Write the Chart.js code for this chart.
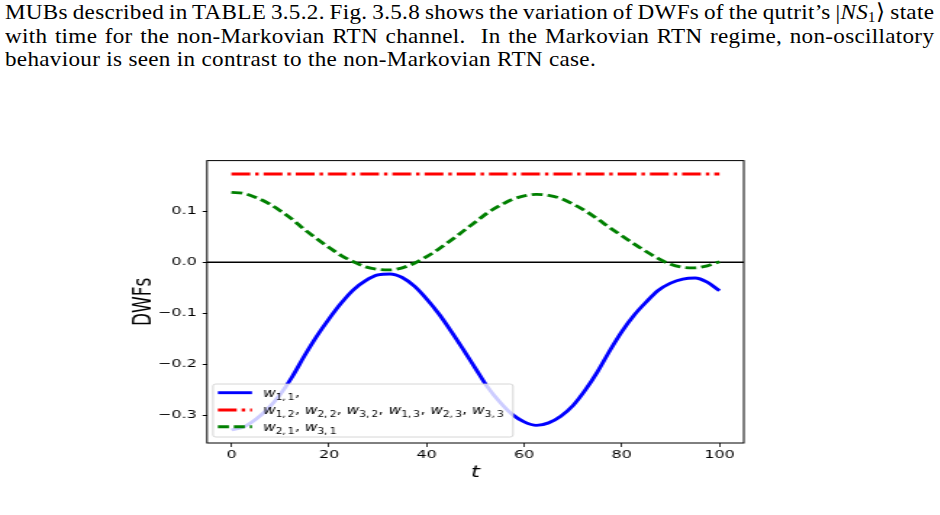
<!DOCTYPE html>
<html lang="en">
<head>
  <meta charset="UTF-8">
  <title>DWFs of the qutrit state</title>
  <script src="https://cdn.jsdelivr.net/npm/chart.js"></script>
  <style>
    html, body { margin: 0; padding: 0; background: #fff; }
    body { position: relative; width: 940px; height: 515px; overflow: hidden; }
    .text-block {
      position: absolute; left: 5px; top: 0px; width: 885px;
      transform: scaleX(1.05); transform-origin: left top;
      font-family: "Liberation Serif", "Times New Roman", serif;
      font-size: 22px; line-height: 23.5px; color: #000;
      letter-spacing: 0.3px;
    }
    .text-block div { white-space: nowrap; }
    .text-block .full { text-align: justify; text-align-last: justify; }
    .text-block .tight { word-spacing: -2.5px; }
    .text-block sub { font-size: 14px; line-height: 0; vertical-align: -3px; }
    /* the figure in the page is stretched sideways, so draw narrow and scale */
    .chart-wrap {
      position: absolute; left: 100px; top: 150px; width: 460px; height: 340px;
      transform: scaleX(1.45); transform-origin: left top;
    }
  </style>
</head>
<body>
  <div class="text-block">
    <div class="full tight">MUBs described in TABLE 3.5.2. Fig. 3.5.8 shows the variation of DWFs of the qutrit’s |<i>NS</i><sub>1</sub>⟩ state</div>
    <div class="full">with time for the non-Markovian RTN channel.&nbsp; In the Markovian RTN regime, non-oscillatory</div>
    <div>behaviour is seen in contrast to the non-Markovian RTN case.</div>
  </div>

  <div class="chart-wrap"><canvas id="dwfChart" width="460" height="340"></canvas></div>

  <script>
    // time axis (t) and values
    const tValues = [0, 2.5, 5, 7.5, 10, 12.5, 15, 17.5, 20, 22.5, 25, 27.5, 30, 32.5, 35, 37.5, 40,
      42.5, 45, 47.5, 50, 52.5, 55, 57.5, 60, 62.5, 65, 67.5, 70, 72.5, 75, 77.5, 80, 82.5, 85,
      87.5, 90, 92.5, 95, 97.5, 100];

    // w_{1,1}
    const w11 = [-0.329, -0.323, -0.308, -0.287, -0.259, -0.224, -0.183, -0.145, -0.111, -0.080,
      -0.054, -0.036, -0.025, -0.023, -0.030, -0.047, -0.072, -0.101, -0.135, -0.171, -0.208,
      -0.245, -0.274, -0.298, -0.313, -0.320, -0.315, -0.302, -0.281, -0.251, -0.215, -0.174,
      -0.136, -0.104, -0.078, -0.055, -0.041, -0.033, -0.031, -0.039, -0.056];

    // w_{2,1}, w_{3,1}
    const w21 = [0.137, 0.135, 0.127, 0.116, 0.101, 0.084, 0.064, 0.046, 0.029, 0.013, 0.001,
      -0.009, -0.014, -0.015, -0.011, -0.002, 0.011, 0.026, 0.043, 0.061, 0.079, 0.097, 0.111,
      0.123, 0.130, 0.133, 0.131, 0.125, 0.114, 0.101, 0.085, 0.068, 0.052, 0.036, 0.021, 0.007,
      -0.004, -0.010, -0.011, -0.007, 0.001];

    // w_{1,2} ... w_{3,3} stay flat
    const wConstT = [0, 100];
    const wConst = [0.173, 0.173];

    const xTickValues = [0, 20, 40, 60, 80, 100];
    const yTickValues = [-0.3, -0.2, -0.1, 0.0, 0.1];

    // legend: [subscript, separator] per w
    const legendRows = [
      [["1,\u20091", ","]],
      [["1,\u20092", ","], ["2,\u20092", ","], ["3,\u20092", ","], ["1,\u20093", ","], ["2,\u20093", ","], ["3,\u20093", ""]],
      [["2,\u20091", ","], ["3,\u20091", ""]]
    ];

    const blueLine = { color: "#0000ff", dash: [] };
    const redLine = { color: "#ff0000", dash: [13, 3.4, 2.4, 3.4] };
    const greenLine = { color: "#008000", dash: [7.6, 3.4] };
    const lineWidth = 2.9;

    // legend text is a little narrower than the rest of the stretched figure
    function drawLabel(ctx, x, base, parts) {
      ctx.save();
      ctx.translate(x, base);
      ctx.scale(0.89, 1);
      let cx = 0;
      parts.forEach((p) => {
        ctx.font = 'italic 12px "DejaVu Sans"';
        ctx.fillText("w", cx, 0);
        cx += ctx.measureText("w").width;
        ctx.font = '8.2px "DejaVu Sans"';
        ctx.fillText(p[0], cx, 2.8);
        cx += ctx.measureText(p[0]).width + 0.3;
        ctx.font = '12px "DejaVu Sans"';
        if (p[1]) {
          ctx.fillText(p[1], cx, 0);
          cx += ctx.measureText(p[1] + " ").width;
        }
      });
      ctx.restore();
    }

    const dwfPlugin = {
      id: "dwfExtras",
      beforeDatasetsDraw(chart) {
        const { ctx, chartArea: a, scales: { y } } = chart;
        const y0 = y.getPixelForValue(0);
        ctx.save();
        ctx.strokeStyle = "#000";
        ctx.lineWidth = 1.5;
        ctx.beginPath();
        ctx.moveTo(a.left, y0);
        ctx.lineTo(a.right, y0);
        ctx.stroke();
        ctx.restore();
      },
      afterDatasetsDraw(chart) {
        const { ctx, chartArea: a } = chart;
        const bx = a.left + 4.1, bw = 206.9, bh = 53;
        const by = a.bottom - 6 - bh;
        ctx.save();
        ctx.fillStyle = "rgba(255,255,255,0.8)";
        ctx.strokeStyle = "#cccccc";
        ctx.lineWidth = 0.8;
        ctx.beginPath();
        ctx.roundRect(bx, by, bw, bh, 2);
        ctx.fill();
        ctx.stroke();

        const styles = [blueLine, redLine, greenLine];
        const rowY = [8.7, 26, 42.7];
        styles.forEach((s, i) => {
          const yy = by + rowY[i];
          ctx.strokeStyle = s.color;
          ctx.lineWidth = lineWidth;
          ctx.setLineDash(s.dash);
          ctx.beginPath();
          ctx.moveTo(bx + 3.4, yy);
          ctx.lineTo(bx + 26.9, yy);
          ctx.stroke();
          ctx.setLineDash([]);
          ctx.fillStyle = "#000";
          ctx.textBaseline = "alphabetic";
          drawLabel(ctx, bx + 34.5, yy + 4, legendRows[i]);
        });
        ctx.restore();
      },
      afterDraw(chart) {
        const { ctx, chartArea: a } = chart;
        ctx.save();
        ctx.strokeStyle = "#000";
        ctx.lineWidth = 1;
        ctx.strokeRect(a.left, a.top, a.right - a.left, a.bottom - a.top);
        ctx.restore();
      }
    };

    const toPoints = (xs, ys) => xs.map((t, i) => ({ x: t, y: ys[i] }));

    new Chart(document.getElementById("dwfChart"), {
      type: "scatter",
      data: {
        datasets: [
          {
            label: "w11",
            data: toPoints(tValues, w11),
            borderColor: blueLine.color,
            borderWidth: lineWidth,
            showLine: true,
            pointRadius: 0,
            cubicInterpolationMode: "monotone",
            order: 2
          },
          {
            label: "w12",
            data: toPoints(wConstT, wConst),
            borderColor: redLine.color,
            borderWidth: lineWidth,
            borderDash: redLine.dash,
            showLine: true,
            pointRadius: 0,
            order: 1
          },
          {
            label: "w21",
            data: toPoints(tValues, w21),
            borderColor: greenLine.color,
            borderWidth: lineWidth,
            borderDash: greenLine.dash,
            showLine: true,
            pointRadius: 0,
            cubicInterpolationMode: "monotone",
            order: 0
          }
        ]
      },
      options: {
        responsive: false,
        animation: false,
        events: [],
        layout: { padding: { top: 9, right: 16, left: 0, bottom: 0 } },
        plugins: { legend: { display: false }, tooltip: { enabled: false } },
        scales: {
          x: {
            type: "linear",
            min: -5,
            max: 105,
            afterBuildTicks: (s) => { s.ticks = xTickValues.map(v => ({ value: v })); },
            afterFit: (s) => { s.height = 47; },
            border: { display: false },
            grid: { drawOnChartArea: false, drawTicks: true, tickLength: 4, tickColor: "#000", tickWidth: 0.8 },
            ticks: { color: "#000", font: { family: "DejaVu Sans", size: 11 }, padding: 1.5, maxRotation: 0, autoSkip: false },
            title: {
              display: true, text: "t", color: "#000",
              font: { family: "DejaVu Sans", size: 16, style: "italic" },
              padding: { top: 0, bottom: 8 }
            }
          },
          y: {
            type: "linear",
            min: -0.3545,
            max: 0.1993,
            afterBuildTicks: (s) => { s.ticks = yTickValues.map(v => ({ value: v })); },
            afterFit: (s) => { s.width = 73.8; },
            border: { display: false },
            grid: { drawOnChartArea: false, drawTicks: true, tickLength: 3, tickColor: "#000", tickWidth: 1 },
            ticks: {
              color: "#000", font: { family: "DejaVu Sans", size: 11 }, padding: 4,
              callback: (v) => (v < 0 ? "\u2212" : "") + Math.abs(v).toFixed(1)
            },
            title: {
              display: true, text: "DWFs", color: "#000",
              font: { family: "DejaVu Sans", size: 17 },
              padding: { top: 20, bottom: 0 }
            }
          }
        }
      },
      plugins: [dwfPlugin]
    });
  </script>
</body>
</html>
